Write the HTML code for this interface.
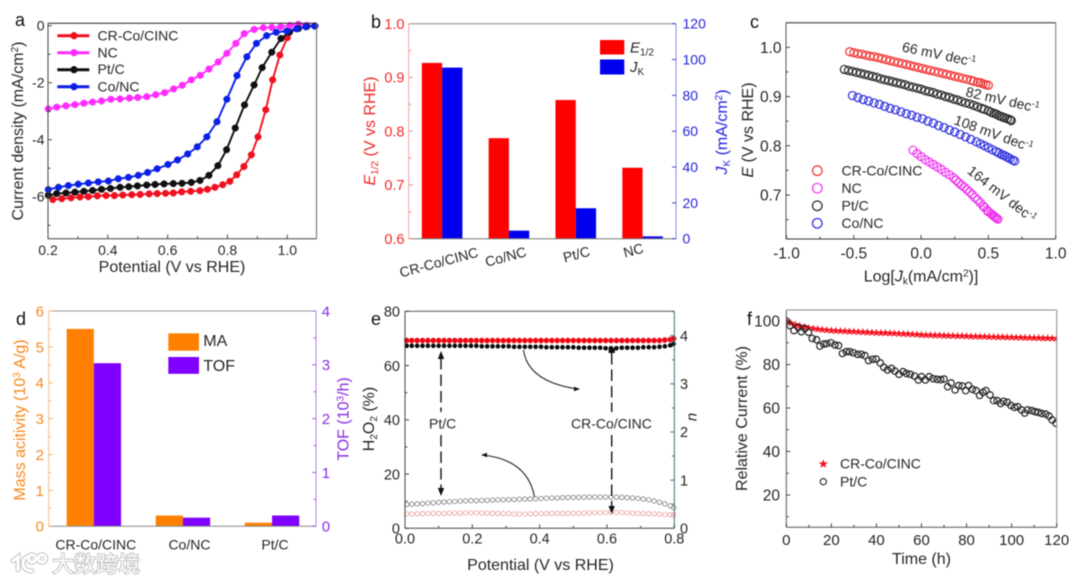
<!DOCTYPE html>
<html lang="en">
<head>
<meta charset="utf-8">
<title>Catalyst performance panels</title>
<style>
html,body{margin:0;padding:0;background:#fff;width:1080px;height:585px;overflow:hidden}
svg{display:block;filter:blur(0.5px)}
text{font-family:"Liberation Sans","Noto Sans CJK SC",sans-serif;fill:#262626}
.pl{font-size:18px;fill:#111}
.ti{font-size:16px}
.lg{font-size:14px}
</style>
</head>
<body>
<svg id="figure" xmlns="http://www.w3.org/2000/svg" width="1080" height="585" viewBox="0 0 1080 585">
  <defs>
    <clipPath id="clip-f"><rect x="786" y="310" width="271" height="218"/></clipPath>
  </defs>
  <rect x="0" y="0" width="1080" height="585" fill="#fff"/>

  <g id="panel-a">
    <text class="pl" x="15" y="26">a</text>
    <text class="ti" x="172" y="272" text-anchor="middle">Potential (V vs RHE)</text>
    <text class="ti" transform="translate(23,131) rotate(-90)" text-anchor="middle">Current density (mA/cm<tspan font-size="10" dy="-5">2</tspan><tspan dy="5">)</tspan></text>
    <text class="lg" x="97.5" y="40.5">CR-Co/CINC</text>
    <text class="lg" x="97.5" y="57.5">NC</text>
    <text class="lg" x="97.5" y="74">Pt/C</text>
    <text class="lg" x="97.5" y="91.5">Co/NC</text>
  </g>

  <g id="panel-b">
    <text class="pl" x="371" y="28">b</text>
    <text class="ti" transform="translate(375,131) rotate(-90)" text-anchor="middle" style="fill:#ee2a2a"><tspan font-style="italic">E</tspan><tspan font-size="10" dy="3">1/2</tspan><tspan dy="-3"> (V vs RHE)</tspan></text>
    <text class="ti" transform="translate(727,132) rotate(-90)" text-anchor="middle" style="fill:#2222dd"><tspan font-style="italic">J</tspan><tspan font-size="10" dy="3">K</tspan><tspan dy="-3"> (mA/cm</tspan><tspan font-size="10" dy="-5">2</tspan><tspan dy="5">)</tspan></text>
    <rect x="600" y="40" width="24.3" height="14.5" fill="#ff0000"/>
    <rect x="600" y="59.5" width="24.3" height="15" fill="#0000ee"/>
    <text x="630" y="52.5" font-size="15"><tspan font-style="italic">E</tspan><tspan font-size="10" dy="3">1/2</tspan></text>
    <text x="630" y="72" font-size="15"><tspan font-style="italic">J</tspan><tspan font-size="10" dy="3">K</tspan></text>
  </g>

  <g id="panel-c">
    <text class="pl" x="750" y="28">c</text>
    <text class="ti" x="921" y="281.5" text-anchor="middle">Log[<tspan font-style="italic">J</tspan><tspan font-size="10" dy="3">k</tspan><tspan dy="-3">(mA/cm</tspan><tspan font-size="10" dy="-5">2</tspan><tspan dy="5">)]</tspan></text>
    <text class="ti" transform="translate(753,130) rotate(-90)" text-anchor="middle"><tspan font-style="italic">E</tspan> (V vs RHE)</text>
    <text class="lg" x="841.5" y="175.5">CR-Co/CINC</text>
    <text class="lg" x="841.5" y="193">NC</text>
    <text class="lg" x="841.5" y="210.5">Pt/C</text>
    <text class="lg" x="841.5" y="228">Co/NC</text>
    <text class="lg" transform="translate(938,59) rotate(12)" text-anchor="middle">66 mV dec<tspan font-size="9" dy="-5">-1</tspan></text>
    <text class="lg" transform="translate(1001.5,104.5) rotate(13)" text-anchor="middle">82 mV dec<tspan font-size="9" dy="-5">-1</tspan></text>
    <text class="lg" transform="translate(992,138) rotate(20)" text-anchor="middle">108 mV dec<tspan font-size="9" dy="-5">-1</tspan></text>
    <text class="lg" transform="translate(999,198) rotate(38)" text-anchor="middle">164 mV dec<tspan font-size="9" dy="-5">-1</tspan></text>
  </g>

  <g id="panel-d">
    <text class="pl" x="16" y="325">d</text>
    <text class="ti" transform="translate(25,420) rotate(-90)" text-anchor="middle" style="fill:#f5891e">Mass acitivity (10<tspan font-size="10" dy="-5">3</tspan><tspan dy="5"> A/g)</tspan></text>
    <text class="ti" transform="translate(348.5,419) rotate(-90)" text-anchor="middle" style="fill:#8a2be2">TOF (10<tspan font-size="10" dy="-5">3</tspan><tspan dy="5">/h)</tspan></text>
    <rect x="168.3" y="333.3" width="30.7" height="17.4" fill="#ff8000"/>
    <rect x="168.3" y="357" width="30.7" height="16.8" fill="#7f00ff"/>
    <text class="ti" x="203.3" y="346">MA</text>
    <text class="ti" x="203.3" y="371">TOF</text>
  </g>

  <g id="panel-e">
    <text class="pl" x="371" y="325">e</text>
    <text class="ti" x="540.5" y="570" text-anchor="middle">Potential (V vs RHE)</text>
    <text class="ti" transform="translate(374,419) rotate(-90)" text-anchor="middle">H<tspan font-size="10" dy="3">2</tspan><tspan dy="-3">O</tspan><tspan font-size="10" dy="3">2</tspan><tspan dy="-3"> (%)</tspan></text>
    <text transform="translate(696.5,417) rotate(-90)" text-anchor="middle" font-size="15" font-style="italic">n</text>
    <text class="lg" x="429" y="428.5">Pt/C</text>
    <text class="lg" x="571" y="428.5">CR-Co/CINC</text>
  </g>

  <g id="panel-f">
    <text class="pl" x="747" y="325">f</text>
    <text class="ti" x="921.5" y="564" text-anchor="middle">Time (h)</text>
    <text class="ti" transform="translate(747,418.5) rotate(-90)" text-anchor="middle">Relative Current (%)</text>
    <text class="lg" x="840" y="468.5">CR-Co/CINC</text>
    <text class="lg" x="840" y="486.5">Pt/C</text>
  </g>

  <g id="watermark">
    <g fill="none" stroke-linecap="round">
      <g stroke="#c4c4c4" stroke-width="5">
        <path d="M13 561 L18 557 L18 570"/><path d="M29 557 C21 556 20 571 32 571"/><circle cx="32" cy="558.5" r="3.8"/><circle cx="42" cy="558.5" r="3.8"/>
      </g>
      <g stroke="#ffffff" stroke-width="3">
        <path d="M13 561 L18 557 L18 570"/><path d="M29 557 C21 556 20 571 32 571"/><circle cx="32" cy="558.5" r="3.8"/><circle cx="42" cy="558.5" r="3.8"/>
      </g>
    </g>
    <text x="52" y="572" font-size="22" style="fill:#ffffff;stroke:#bdbdbd;stroke-width:1.7;paint-order:stroke;font-family:'Liberation Sans','Noto Sans CJK SC',sans-serif;font-weight:400">大数跨境</text>
  </g>
</svg>

<script>
// ---------- Panel a: polarization curves ----------
const aXTicks = [0.2, 0.4, 0.6, 0.8, 1.0];
const aXTickLabels = ['0.2', '0.4', '0.6', '0.8', '1.0'];
const aXMinorTicks = [0.3, 0.5, 0.7, 0.9];
const aYTicks = [0, -2, -4, -6];
const aYTickLabels = ['0', '-2', '-4', '-6'];
const aYMinorTicks = [-1, -3, -5, -7];

const aNcPotential = [0.201, 0.229, 0.260, 0.290, 0.320, 0.349, 0.379, 0.410, 0.441, 0.472, 0.500, 0.530, 0.560, 0.590, 0.620, 0.649, 0.679, 0.709, 0.738, 0.769, 0.798, 0.828, 0.856, 0.889, 0.920, 0.948, 0.978, 1.009, 1.037, 1.065, 1.092];
const aNcCurrent = [-2.92, -2.86, -2.81, -2.77, -2.72, -2.68, -2.64, -2.58, -2.57, -2.54, -2.52, -2.49, -2.42, -2.35, -2.22, -2.09, -1.90, -1.74, -1.52, -1.27, -0.97, -0.62, -0.28, -0.13, -0.07, -0.06, -0.04, 0.01, 0.05, 0.01, -0.01];
const aCrPotential = [0.216, 0.246, 0.277, 0.307, 0.335, 0.365, 0.394, 0.422, 0.450, 0.480, 0.508, 0.538, 0.565, 0.593, 0.619, 0.647, 0.677, 0.708, 0.733, 0.758, 0.784, 0.808, 0.831, 0.855, 0.880, 0.902, 0.928, 0.951, 0.975, 1.000];
const aCrCurrent = [-6.10, -6.07, -6.04, -6.01, -6.00, -5.97, -5.96, -5.96, -5.94, -5.93, -5.92, -5.90, -5.89, -5.88, -5.87, -5.83, -5.81, -5.79, -5.74, -5.67, -5.58, -5.46, -5.23, -4.94, -4.53, -3.90, -2.95, -1.90, -1.03, -0.42];
const aPtPotential = [0.201, 0.229, 0.260, 0.290, 0.320, 0.349, 0.379, 0.409, 0.441, 0.470, 0.499, 0.530, 0.558, 0.588, 0.619, 0.648, 0.679, 0.708, 0.738, 0.768, 0.797, 0.826, 0.857, 0.889, 0.916, 0.948, 0.979, 1.007, 1.037, 1.065, 1.092];
const aPtCurrent = [-5.95, -5.89, -5.87, -5.84, -5.81, -5.78, -5.74, -5.71, -5.67, -5.65, -5.62, -5.59, -5.57, -5.55, -5.54, -5.53, -5.50, -5.43, -5.25, -4.91, -4.35, -3.59, -2.78, -2.08, -1.47, -0.93, -0.45, -0.23, -0.10, -0.03, -0.01];
const aCoPotential = [0.201, 0.235, 0.268, 0.301, 0.335, 0.368, 0.402, 0.435, 0.469, 0.502, 0.533, 0.565, 0.601, 0.633, 0.667, 0.699, 0.731, 0.765, 0.798, 0.832, 0.865, 0.897, 0.931, 0.963, 0.998, 1.031, 1.062, 1.092];
const aCoCurrent = [-5.75, -5.67, -5.61, -5.56, -5.52, -5.48, -5.45, -5.37, -5.32, -5.25, -5.15, -5.02, -4.87, -4.71, -4.50, -4.25, -3.90, -3.37, -2.58, -1.75, -1.09, -0.62, -0.35, -0.23, -0.19, -0.11, -0.04, -0.01];

// ---------- Panel b: half-wave potential and kinetic current ----------
const bCategories = ['CR-Co/CINC', 'Co/NC', 'Pt/C', 'NC'];
const bHalfWave = [0.927, 0.787, 0.858, 0.732];
const bKinetic = [95.5, 4.5, 17, 1.3];
const bLeftTicks = [0.6, 0.7, 0.8, 0.9, 1.0];
const bLeftTickLabels = ['0.6', '0.7', '0.8', '0.9', '1.0'];
const bLeftMinorTicks = [0.65, 0.75, 0.85, 0.95];
const bRightTicks = [0, 20, 40, 60, 80, 100, 120];
const bRightTickLabels = ['0', '20', '40', '60', '80', '100', '120'];

// ---------- Panel c: Tafel plot ----------
const cXTicks = [-1, -0.5, 0, 0.5, 1];
const cXTickLabels = ['-1.0', '-0.5', '0.0', '0.5', '1.0'];
const cXMinorTicks = [-0.75, -0.25, 0.25, 0.75];
const cYTicks = [0.7, 0.8, 0.9, 1.0];
const cYTickLabels = ['0.7', '0.8', '0.9', '1.0'];
const cYMinorTicks = [0.65, 0.75, 0.85, 0.95];

const cCrLogJ = [-0.53, -0.50, -0.47, -0.44, -0.41, -0.38, -0.35, -0.32, -0.29, -0.26, -0.23, -0.20, -0.17, -0.14, -0.11, -0.08, -0.05, -0.02, 0.01, 0.04, 0.07, 0.10, 0.13, 0.16, 0.19, 0.22, 0.25, 0.28, 0.31, 0.34, 0.37, 0.39, 0.42, 0.44, 0.46, 0.48, 0.50];
const cCrE = [0.991, 0.989, 0.987, 0.986, 0.984, 0.982, 0.981, 0.979, 0.977, 0.975, 0.973, 0.971, 0.969, 0.967, 0.965, 0.963, 0.961, 0.959, 0.957, 0.955, 0.953, 0.951, 0.949, 0.947, 0.945, 0.943, 0.941, 0.939, 0.937, 0.935, 0.933, 0.931, 0.929, 0.928, 0.926, 0.924, 0.923];
const cPtLogJ = [-0.57, -0.54, -0.51, -0.48, -0.45, -0.42, -0.39, -0.36, -0.33, -0.30, -0.27, -0.24, -0.21, -0.18, -0.15, -0.12, -0.09, -0.06, -0.03, 0, 0.03, 0.06, 0.09, 0.12, 0.15, 0.18, 0.21, 0.24, 0.27, 0.30, 0.33, 0.36, 0.39, 0.42, 0.45, 0.47, 0.50, 0.52, 0.54, 0.56, 0.58, 0.60, 0.62, 0.64, 0.66, 0.67];
const cPtE = [0.955, 0.953, 0.951, 0.949, 0.947, 0.945, 0.943, 0.941, 0.939, 0.936, 0.934, 0.932, 0.930, 0.928, 0.926, 0.924, 0.921, 0.919, 0.917, 0.915, 0.912, 0.910, 0.908, 0.905, 0.903, 0.900, 0.898, 0.895, 0.893, 0.890, 0.887, 0.885, 0.882, 0.879, 0.876, 0.874, 0.871, 0.868, 0.866, 0.864, 0.861, 0.859, 0.857, 0.855, 0.853, 0.851];
const cCoLogJ = [-0.51, -0.47, -0.43, -0.39, -0.35, -0.31, -0.27, -0.23, -0.19, -0.15, -0.11, -0.07, -0.03, 0.01, 0.05, 0.09, 0.13, 0.17, 0.21, 0.25, 0.29, 0.33, 0.37, 0.41, 0.44, 0.47, 0.50, 0.53, 0.56, 0.58, 0.60, 0.62, 0.64, 0.66, 0.68, 0.695];
const cCoE = [0.902, 0.898, 0.894, 0.891, 0.887, 0.884, 0.880, 0.876, 0.873, 0.869, 0.865, 0.862, 0.858, 0.855, 0.850, 0.846, 0.841, 0.837, 0.832, 0.828, 0.823, 0.818, 0.813, 0.808, 0.804, 0.800, 0.796, 0.792, 0.788, 0.785, 0.782, 0.780, 0.777, 0.774, 0.771, 0.769];
const cNcLogJ = [-0.06, -0.03, 0, 0.03, 0.06, 0.09, 0.12, 0.15, 0.18, 0.21, 0.24, 0.26, 0.28, 0.30, 0.32, 0.34, 0.36, 0.38, 0.40, 0.42, 0.44, 0.46, 0.47, 0.49, 0.50, 0.52, 0.53, 0.54, 0.55, 0.56, 0.57];
const cNcE = [0.791, 0.784, 0.778, 0.772, 0.767, 0.762, 0.757, 0.752, 0.746, 0.741, 0.735, 0.730, 0.725, 0.720, 0.716, 0.711, 0.706, 0.701, 0.695, 0.690, 0.684, 0.678, 0.675, 0.669, 0.666, 0.662, 0.660, 0.657, 0.655, 0.653, 0.651];

// ---------- Panel d: mass activity and TOF ----------
const dCategories = ['CR-Co/CINC', 'Co/NC', 'Pt/C'];
const dMassActivity = [5.5, 0.3, 0.1];
const dTof = [3.03, 0.16, 0.2];
const dLeftTicks = [0, 1, 2, 3, 4, 5, 6];
const dLeftTickLabels = ['0', '1', '2', '3', '4', '5', '6'];
const dLeftMinorTicks = [0.5, 1.5, 2.5, 3.5, 4.5, 5.5];
const dRightTicks = [0, 1, 2, 3, 4];
const dRightTickLabels = ['0', '1', '2', '3', '4'];
const dRightMinorTicks = [0.5, 1.5, 2.5, 3.5];

// ---------- Panel e: peroxide yield and electron number ----------
const eXTicks = [0, 0.2, 0.4, 0.6, 0.8];
const eXTickLabels = ['0.0', '0.2', '0.4', '0.6', '0.8'];
const eXMinorTicks = [0.1, 0.3, 0.5, 0.7];
const eLeftTicks = [0, 20, 40, 60, 80];
const eLeftTickLabels = ['0', '20', '40', '60', '80'];
const eLeftMinorTicks = [10, 30, 50, 70];
const eRightTicks = [0, 1, 2, 3, 4];
const eRightTickLabels = ['0', '1', '2', '3', '4'];
const eRightMinorTicks = [0.5, 1.5, 2.5, 3.5, 4.5];
const ePotential = [0.005, 0.02, 0.036, 0.052, 0.068, 0.084, 0.1, 0.116, 0.132, 0.148, 0.164, 0.18, 0.196, 0.212, 0.228, 0.244, 0.26, 0.276, 0.292, 0.308, 0.324, 0.34, 0.356, 0.372, 0.388, 0.404, 0.42, 0.436, 0.452, 0.468, 0.484, 0.5, 0.516, 0.532, 0.548, 0.564, 0.58, 0.596, 0.612, 0.628, 0.644, 0.66, 0.676, 0.692, 0.708, 0.724, 0.74, 0.756, 0.772, 0.788, 0.798];
const eCrElectrons = [3.90, 3.90, 3.90, 3.90, 3.90, 3.90, 3.90, 3.90, 3.90, 3.90, 3.90, 3.90, 3.90, 3.90, 3.90, 3.90, 3.90, 3.90, 3.90, 3.90, 3.90, 3.90, 3.90, 3.90, 3.90, 3.90, 3.90, 3.90, 3.90, 3.90, 3.90, 3.90, 3.90, 3.90, 3.90, 3.90, 3.90, 3.90, 3.90, 3.90, 3.90, 3.90, 3.90, 3.90, 3.90, 3.90, 3.90, 3.90, 3.91, 3.92, 3.94];
const ePtElectrons = [3.79, 3.79, 3.79, 3.79, 3.79, 3.79, 3.79, 3.79, 3.79, 3.79, 3.79, 3.79, 3.79, 3.79, 3.78, 3.78, 3.78, 3.78, 3.78, 3.78, 3.77, 3.77, 3.77, 3.77, 3.77, 3.77, 3.76, 3.76, 3.76, 3.76, 3.76, 3.76, 3.75, 3.75, 3.75, 3.75, 3.75, 3.74, 3.74, 3.74, 3.75, 3.75, 3.75, 3.75, 3.76, 3.76, 3.76, 3.77, 3.78, 3.80, 3.83];
const ePtPeroxide = [8.8, 8.9, 9.0, 9.1, 9.3, 9.4, 9.6, 9.7, 9.8, 9.9, 10.0, 10.1, 10.2, 10.2, 10.3, 10.3, 10.4, 10.5, 10.5, 10.6, 10.6, 10.7, 10.8, 10.8, 10.9, 11.0, 11.1, 11.2, 11.2, 11.3, 11.4, 11.4, 11.4, 11.5, 11.5, 11.5, 11.5, 11.5, 11.5, 11.5, 11.4, 11.3, 11.2, 11.0, 10.8, 10.5, 10.1, 9.6, 9.0, 8.3, 7.6];
const eCrPeroxide = [5.3, 5.3, 5.3, 5.4, 5.4, 5.5, 5.5, 5.5, 5.6, 5.6, 5.6, 5.7, 5.7, 5.7, 5.6, 5.6, 5.5, 5.5, 5.4, 5.4, 5.3, 5.3, 5.3, 5.3, 5.4, 5.4, 5.4, 5.5, 5.5, 5.5, 5.5, 5.6, 5.6, 5.6, 5.7, 5.7, 5.7, 5.8, 5.9, 5.9, 5.8, 5.7, 5.6, 5.5, 5.4, 5.4, 5.3, 5.2, 5.1, 5.0, 4.9];

// ---------- Panel f: stability ----------
const fXTicks = [0, 20, 40, 60, 80, 100, 120];
const fXTickLabels = ['0', '20', '40', '60', '80', '100', '120'];
const fXMinorTicks = [10, 30, 50, 70, 90, 110];
const fYTicks = [20, 40, 60, 80, 100];
const fYTickLabels = ['20', '40', '60', '80', '100'];
const fYMinorTicks = [10, 30, 50, 70, 90];
const fCrTime = [0, 2, 4, 6, 8, 10, 12, 14, 16, 18, 20, 22, 24, 26, 28, 30, 32, 34, 36, 38, 40, 42, 44, 46, 48, 50, 52, 54, 56, 58, 60, 62, 64, 66, 68, 70, 72, 74, 76, 78, 80, 82, 84, 86, 88, 90, 92, 94, 96, 98, 100, 102, 104, 106, 108, 110, 112, 114, 116, 118, 120];
const fCrCurrent = [100, 99, 98.3, 97.7, 97.2, 96.8, 96.5, 96.2, 96.0, 95.8, 95.6, 95.5, 95.4, 95.3, 95.2, 95.1, 95.0, 94.9, 94.8, 94.7, 94.6, 94.5, 94.5, 94.4, 94.3, 94.2, 94.1, 94.0, 93.9, 93.8, 93.6, 93.5, 93.5, 93.4, 93.4, 93.3, 93.2, 93.2, 93.1, 93.1, 93.0, 92.9, 92.9, 92.8, 92.8, 92.7, 92.7, 92.6, 92.6, 92.5, 92.5, 92.4, 92.4, 92.3, 92.3, 92.2, 92.2, 92.1, 92.1, 92.0, 92.0];
const fPtTime = [0, 1.6, 3.4, 5.3, 6.7, 8.2, 9.9, 11.5, 13.4, 14.9, 16.6, 18, 19.8, 21.6, 23.2, 24.9, 26.6, 28.1, 29.8, 31.6, 33.3, 34.9, 36.5, 38.3, 39.9, 41.7, 43.3, 44.9, 46.7, 48.2, 50, 51.8, 53.3, 55, 56.9, 58.6, 60, 61.7, 63.4, 65.1, 66.9, 68.5, 70, 71.6, 73.1, 74.9, 76.5, 78.1, 79.6, 80.9, 82.6, 84.2, 85.8, 87.3, 88.6, 90.4, 92, 93.6, 95.1, 96.4, 98.1, 99.7, 101.3, 102.7, 104.4, 105.8, 107.1, 108.9, 110.4, 111.8, 113.3, 115.1, 116.6, 118, 119.7];
const fPtCurrent = [100, 97.9, 95.6, 97.1, 95.1, 96.6, 94.8, 92.0, 91.4, 88.5, 89.4, 89.6, 90.0, 89.0, 88.7, 85.1, 85.9, 85.9, 85.4, 84.7, 84.7, 84.1, 81.8, 82.4, 82.5, 80.7, 78.7, 77.5, 78.2, 77.0, 75.5, 76.7, 75.9, 75.5, 74.7, 72.9, 74.4, 72.9, 74.4, 73.5, 73.2, 73.0, 73.3, 69.8, 71.5, 68.3, 70.3, 70.1, 68.0, 70.3, 68.6, 68.0, 65.8, 67.2, 68.0, 66.0, 63.4, 63.4, 62.1, 63.1, 62.6, 61.2, 60.3, 60.6, 59.1, 57.7, 59.1, 58.8, 58.3, 58.0, 57.5, 57.2, 56.3, 54.5, 53.0];

// ---------- Drawing utilities ----------
const NS = 'http://www.w3.org/2000/svg';
function scale(d0, d1, r0, r1) {
  return function (v) { return r0 + (v - d0) / (d1 - d0) * (r1 - r0); };
}
function make(tag, attrs, parent) {
  const el = document.createElementNS(NS, tag);
  for (const k in attrs) el.setAttribute(k, attrs[k]);
  parent.appendChild(el);
  return el;
}
function drawLine(parent, x1, y1, x2, y2, color, width, name) {
  const el = make('line', { x1: x1, y1: y1, x2: x2, y2: y2, stroke: color, 'stroke-width': width }, parent);
  
  
  return el;
}
function drawText(parent, x, y, str, anchor, size, color, name) {
  const el = make('text', { x: x, y: y, 'text-anchor': anchor, 'font-size': size, style: 'fill:' + color }, parent);
  el.textContent = str;
  
  
  return el;
}
function drawBar(parent, x, w, yTop, yBase, color, name) {
  const el = make('rect', { x: x, y: yTop, width: w, height: yBase - yTop, fill: color }, parent);
  
  
  return el;
}
function drawCircle(parent, cx, cy, r, fill, stroke, sw, name) {
  const el = make('circle', { cx: cx, cy: cy, r: r, fill: fill, stroke: stroke, 'stroke-width': sw }, parent);
  
  
  return el;
}
function drawStar(parent, cx, cy, r, color, name) {
  let pts = '';
  for (let i = 0; i < 10; i++) {
    const a = -Math.PI / 2 + i * Math.PI / 5;
    const rr = i % 2 === 0 ? r : r * 0.42;
    pts += (cx + rr * Math.cos(a)).toFixed(2) + ',' + (cy + rr * Math.sin(a)).toFixed(2) + ' ';
  }
  const el = make('polygon', { points: pts, fill: color }, parent);
  
  
  return el;
}
function drawPolyline(parent, xs, ys, sx, sy, color, width, name) {
  let pts = '';
  for (let i = 0; i < xs.length; i++) pts += sx(xs[i]).toFixed(2) + ',' + sy(ys[i]).toFixed(2) + ' ';
  const el = make('polyline', { points: pts, fill: 'none', stroke: color, 'stroke-width': width }, parent);
  
  
  return el;
}
function drawFrame(parent, b, colors) {
  drawLine(parent, b.x0, b.y0, b.x1, b.y0, colors.top, 1, 'plot-frame-top');
  drawLine(parent, b.x0, b.y1, b.x1, b.y1, colors.bottom, 1, 'plot-frame-bottom');
  drawLine(parent, b.x0, b.y0, b.x0, b.y1, colors.left, 1, 'plot-frame-left');
  drawLine(parent, b.x1, b.y0, b.x1, b.y1, colors.right, 1, 'plot-frame-right');
}
function ticksBottom(parent, ticks, labels, minor, sx, y, labelY, color, size) {
  ticks.forEach(function (t, i) {
    drawLine(parent, sx(t), y, sx(t), y - 4, color, 1, 'x-tick');
    drawText(parent, sx(t), labelY, labels[i], 'middle', size, '#262626', 'x-tick-label');
  });
  minor.forEach(function (t) { drawLine(parent, sx(t), y, sx(t), y - 2.5, color, 1, 'x-minor-tick'); });
}
function ticksLeft(parent, ticks, labels, minor, sy, x, labelX, color, size, labelColor) {
  ticks.forEach(function (t, i) {
    drawLine(parent, x, sy(t), x + 4, sy(t), color, 1, 'y-tick');
    drawText(parent, labelX, sy(t) + size * 0.36, labels[i], 'end', size, labelColor, 'y-tick-label');
  });
  minor.forEach(function (t) { drawLine(parent, x, sy(t), x + 2.5, sy(t), color, 1, 'y-minor-tick'); });
}
function ticksRight(parent, ticks, labels, minor, sy, x, labelX, color, size, labelColor) {
  ticks.forEach(function (t, i) {
    drawLine(parent, x, sy(t), x - 4, sy(t), color, 1, 'right-axis-tick');
    drawText(parent, labelX, sy(t) + size * 0.36, labels[i], 'start', size, labelColor, 'right-axis-tick-label');
  });
  minor.forEach(function (t) { drawLine(parent, x, sy(t), x - 2.5, sy(t), color, 1, 'right-axis-minor-tick'); });
}

// ---------- Panel a ----------
(function () {
  const g = document.getElementById('panel-a');
  const b = { x0: 48, x1: 316.5, y0: 23.3, y1: 238.7 };
  const sx = scale(0.2, 1.0, 48, 287.3);
  const sy = scale(0, -6, 25.7, 196.7);
  const plot = make('g', {}, g);
  function series(xs, ys, color, name) {
    drawPolyline(plot, xs, ys, sx, sy, color, 1.9, name + '-line');
    xs.forEach(function (x, i) { drawCircle(plot, sx(x), sy(ys[i]), 3.3, color, color, 0.5, name + '-point'); });
  }
  series(aNcPotential, aNcCurrent, '#ff2cff', 'nc-series');
  series(aCrPotential, aCrCurrent, '#f01020', 'cr-co-cinc-series');
  series(aPtPotential, aPtCurrent, '#101010', 'pt-c-series');
  series(aCoPotential, aCoCurrent, '#0a20e6', 'co-nc-series');
  drawFrame(g, b, { top: '#222', bottom: '#444', left: '#444', right: '#666' });
  ticksBottom(g, aXTicks, aXTickLabels, aXMinorTicks, sx, b.y1, 255, '#444', 14);
  ticksLeft(g, aYTicks, aYTickLabels, aYMinorTicks, sy, b.x0, 44.5, '#444', 14, '#262626');
  const legendColors = ['#f01020', '#ff2cff', '#101010', '#0a20e6'];
  const legendRows = ['cr-co-cinc', 'nc', 'pt-c', 'co-nc'];
  const legendY = scale(0, 3, 35.7, 86.7);
  legendColors.forEach(function (c, i) {
    drawLine(g, 57.3, legendY(i), 89.3, legendY(i), c, 3, 'legend-line-' + legendRows[i]);
    drawCircle(g, 74, legendY(i), 3.4, c, c, 0.5, 'legend-marker-' + legendRows[i]);
  });
})();

// ---------- Panel b ----------
(function () {
  const g = document.getElementById('panel-b');
  const b = { x0: 408.7, x1: 676, y0: 23.7, y1: 238.7 };
  const sl = scale(0.6, 1.0, b.y1, b.y0);
  const sr = scale(0, 120, b.y1, b.y0);
  const band = (b.x1 - b.x0) / bCategories.length;
  const barW = 20.3;
  const labelDx = [-2, -2, 2, -8];
  const labelDy = [262, 256.5, 254, 250];
  bCategories.forEach(function (cat, i) {
    const cx = b.x0 + band * (i + 0.5);
    drawBar(g, cx - barW, barW, sl(bHalfWave[i]), b.y1, '#ff0000', 'e12-bar-' + cat);
    drawBar(g, cx, barW, sr(bKinetic[i]), b.y1, '#0000ee', 'jk-bar-' + cat);
    const t = drawText(g, 0, 0, cat, 'middle', 14, '#262626', 'category-label-' + cat);
    t.setAttribute('transform', 'translate(' + (cx + labelDx[i]) + ',' + (labelDy[i] + 5) + ') rotate(-15)');
  });
  drawFrame(g, b, { top: '#888', bottom: '#777', left: '#f5a0a0', right: '#8a8ae8' });
  ticksLeft(g, bLeftTicks, bLeftTickLabels, bLeftMinorTicks, sl, b.x0, 404.5, '#f08888', 14.5, '#ee2a2a');
  ticksRight(g, bRightTicks, bRightTickLabels, [], sr, b.x1, 682.5, '#4444cc', 14, '#2222dd');
})();

// ---------- Panel c ----------
(function () {
  const g = document.getElementById('panel-c');
  const b = { x0: 786, x1: 1055.7, y0: 22.7, y1: 239 };
  const sx = scale(-1, 1, 786.5, 1055.7);
  const sy = scale(0.7, 1.0, 195, 47.3);
  function series(xs, ys, color, name) {
    xs.forEach(function (x, i) { drawCircle(g, sx(x), sy(ys[i]), 4, 'none', color, 1.2, name + '-point'); });
  }
  series(cCrLogJ, cCrE, '#f03030', 'cr-co-cinc-tafel');
  series(cPtLogJ, cPtE, '#222222', 'pt-c-tafel');
  series(cCoLogJ, cCoE, '#2a2ae0', 'co-nc-tafel');
  series(cNcLogJ, cNcE, '#f030f0', 'nc-tafel');
  drawFrame(g, b, { top: '#222', bottom: '#333', left: '#555', right: '#777' });
  ticksBottom(g, cXTicks, cXTickLabels, cXMinorTicks, sx, b.y1, 258.5, '#444', 15.5);
  ticksLeft(g, cYTicks, cYTickLabels, cYMinorTicks, sy, b.x0, 781.5, '#444', 15.5, '#262626');
  const legendColors = ['#f03030', '#f030f0', '#222222', '#2a2ae0'];
  const legendRows = ['cr-co-cinc', 'nc', 'pt-c', 'co-nc'];
  const legendY = scale(0, 3, 170.7, 223.3);
  legendColors.forEach(function (c, i) {
    drawCircle(g, 817.3, legendY(i), 4.8, 'none', c, 1.2, 'legend-marker-' + legendRows[i]);
  });
})();

// ---------- Panel d ----------
(function () {
  const g = document.getElementById('panel-d');
  const b = { x0: 48.7, x1: 316, y0: 311, y1: 526.3 };
  const sl = scale(0, 6, b.y1, b.y0);
  const sr = scale(0, 4, b.y1, b.y0);
  const band = (b.x1 - b.x0) / dCategories.length;
  const barW = 27.2;
  const labelDx = [2, 6.5, 3];
  dCategories.forEach(function (cat, i) {
    const cx = b.x0 + band * (i + 0.5) + 0.6;
    drawBar(g, cx - barW, barW, sl(dMassActivity[i]), b.y1, '#ff8000', 'ma-bar-' + cat);
    drawBar(g, cx, barW, sr(dTof[i]), b.y1, '#7f00ff', 'tof-bar-' + cat);
    drawText(g, cx + labelDx[i], 549.5, cat, 'middle', 14, '#262626', 'category-label-' + cat);
  });
  drawFrame(g, b, { top: '#999', bottom: '#888', left: '#f8c08a', right: '#b07ff0' });
  ticksLeft(g, dLeftTicks, dLeftTickLabels, dLeftMinorTicks, sl, b.x0, 44, '#f5b070', 15, '#f5891e');
  ticksRight(g, dRightTicks, dRightTickLabels, dRightMinorTicks, sr, b.x1, 321.7, '#9a5ce8', 15, '#8a2be2');
})();

// ---------- Panel e ----------
(function () {
  const g = document.getElementById('panel-e');
  const b = { x0: 405, x1: 674.3, y0: 311.3, y1: 528.3 };
  const sx = scale(0, 0.8, b.x0, b.x1);
  const sl = scale(0, 80, b.y1, b.y0);
  const sr = scale(0, 4, b.y1, 335.7);
  ePotential.forEach(function (x, i) {
    drawCircle(g, sx(x), sl(ePtPeroxide[i]), 2.2, 'none', '#7a7a7a', 0.8, 'pt-c-peroxide-point');
    drawCircle(g, sx(x), sl(eCrPeroxide[i]), 2.2, 'none', '#ee9a9a', 0.8, 'cr-co-cinc-peroxide-point');
  });
  ePotential.forEach(function (x, i) {
    drawCircle(g, sx(x), sr(eCrElectrons[i]), 2.7, '#f00010', '#f06060', 0.5, 'cr-co-cinc-electron-point');
  });
  ePotential.forEach(function (x, i) {
    drawCircle(g, sx(x), sr(ePtElectrons[i]), 2.2, '#0a0a0a', '#0a0a0a', 0.3, 'pt-c-electron-point');
  });
  drawFrame(g, b, { top: '#555', bottom: '#444', left: '#444', right: '#3a7078' });
  ticksBottom(g, eXTicks, eXTickLabels, eXMinorTicks, sx, b.y1, 543.5, '#444', 14.5);
  ticksLeft(g, eLeftTicks, eLeftTickLabels, eLeftMinorTicks, sl, b.x0, 400, '#444', 14.5, '#262626');
  ticksRight(g, eRightTicks, eRightTickLabels, eRightMinorTicks, sr, b.x1, 680, '#3a7078', 14.5, '#262626');

  function dashed(x, y1, y2, name) {
    const el = drawLine(g, x, y1, x, y2, '#111', 1.4, name);
    el.setAttribute('stroke-dasharray', '11.5 5');
  }
  dashed(441, 358, 412, 'pt-c-dashed-arrow-upper');
  dashed(441, 435, 490, 'pt-c-dashed-arrow-lower');
  dashed(611.7, 353, 412, 'cr-co-cinc-dashed-arrow-upper');
  dashed(611.7, 435, 508, 'cr-co-cinc-dashed-arrow-lower');
  function head(d, name) {
    const el = make('path', { d: d, fill: '#111' }, g);
    
    
  }
  head('M441 351 L437.8 359 L444.2 359 Z', 'pt-c-arrowhead-up');
  head('M441 496 L437.8 488 L444.2 488 Z', 'pt-c-arrowhead-down');
  head('M608.6 348 L614.8 348 L614.8 353 L608.6 353 Z', 'cr-co-cinc-arrowhead-up');
  head('M611.7 514 L608.5 506 L614.9 506 Z', 'cr-co-cinc-arrowhead-down');
  function curve(d, name) {
    const el = make('path', { d: d, fill: 'none', stroke: '#222', 'stroke-width': 1.1 }, g);
    
    
  }
  curve('M523.5 350 Q528 382 578 389', 'curved-arrow-electron-number');
  head('M580 389 L574 386.8 L574 391.2 Z', 'curved-arrowhead-electron-number');
  curve('M534.5 497 Q528 460 483 455', 'curved-arrow-peroxide');
  head('M481 455 L487 452.8 L487 457.2 Z', 'curved-arrowhead-peroxide');
})();

// ---------- Panel f ----------
(function () {
  const g = document.getElementById('panel-f');
  const b = { x0: 786.3, x1: 1056.7, y0: 310, y1: 527.3 };
  const sx = scale(0, 120, b.x0, b.x1);
  const sy = scale(20, 100, 495, 321);
  const plot = make('g', { 'clip-path': 'url(#clip-f)' }, g);
  fCrTime.forEach(function (t, i) { drawStar(plot, sx(t), sy(fCrCurrent[i]), 4.2, '#f5101c', 'cr-co-cinc-stability-point'); });
  fPtTime.forEach(function (t, i) { drawCircle(plot, sx(t), sy(fPtCurrent[i]), 3.2, 'none', '#222', 1.2, 'pt-c-stability-point'); });
  drawFrame(g, b, { top: '#888', bottom: '#555', left: '#555', right: '#888' });
  ticksBottom(g, fXTicks, fXTickLabels, fXMinorTicks, sx, b.y1, 545, '#444', 15);
  ticksLeft(g, fYTicks, fYTickLabels, fYMinorTicks, sy, b.x0, 780, '#444', 15.5, '#262626');
  drawStar(g, 823.3, 464, 4.8, '#f5101c', 'legend-marker-cr-co-cinc');
  drawCircle(g, 823.3, 481.7, 3.1, 'none', '#222', 1.1, 'legend-marker-pt-c');
})();
</script>
</body>
</html>
